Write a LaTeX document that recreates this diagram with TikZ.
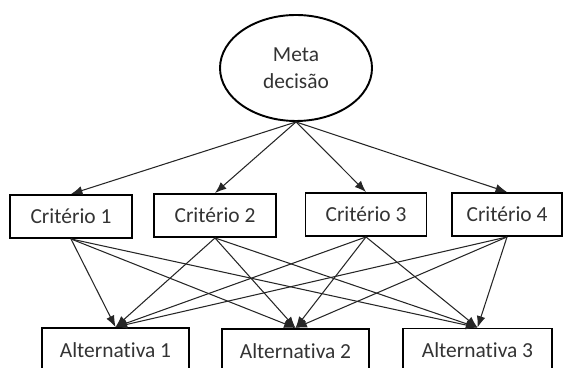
\documentclass[tikz,border=0pt]{standalone}
\usepackage{fontspec}
\setmainfont{Carlito}[Ligatures=NoCommon]
\usetikzlibrary{shapes.geometric,arrows.meta}

\begin{document}
\begin{tikzpicture}[>={Latex[length=6.5pt,width=5pt]}]
      \useasboundingbox (0,0) rectangle (11.3,7.34);
      \tikzstyle{every node} = [draw, line width=1.1pt, text=black!80, inner sep=0pt, font=\fontsize{12.2}{15.3}\selectfont]
      \tikzstyle{criterio} = [rectangle, minimum height=0.86cm]
      \tikzstyle{alternativa} = [rectangle, minimum height=0.88cm]
      \node[ellipse, minimum width=3.04cm, minimum height=2.12cm, align=center] (meta) at (5.92,5.98) {Meta\\decisão};
      \foreach \x/\y/\w/\n in {1.42/3.01/2.44/1, 4.30/3.03/2.44/2, 7.32/3.05/2.42/3, 10.14/3.05/2.2/4}{
        \node[criterio, minimum width=\w cm](c\n) at (\x,\y) {Critério \n};
      }
      \foreach \x/\y/\w/\n in {2.31/0.34/2.94/1, 5.91/0.32/2.94/2, 9.55/0.33/2.98/3}{
        \node[alternativa, minimum width=\w cm](a\n) at (\x,\y) {Alternativa \n};
      }
      \foreach \i in {1,...,4}{
        \path[->, line width=0.6pt, black!85]
        (meta.south) edge (c\i.north);
        \foreach \j in {1,2,3}{
          \path[->, line width=0.6pt, black!85]
          (c\i.south) edge (a\j.north);
        }
      }
    \end{tikzpicture}
\end{document}
